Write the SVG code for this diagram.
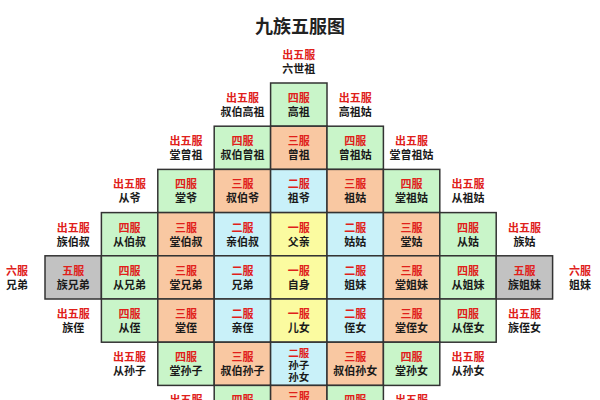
<svg xmlns="http://www.w3.org/2000/svg" width="600" height="400" viewBox="0 0 600 400">
<style>
rect.c{stroke:#333;stroke-width:1.5}
.g{fill:#c9f5c9}.o{fill:#f9c8a2}.b{fill:#c9f1f9}.y{fill:#fbfba0}.k{fill:#c2c2c2}
text{font-family:"Noto Sans CJK SC","Noto Sans",sans-serif;font-weight:bold;font-size:11px;text-anchor:middle}
text.l{fill:#e0201a}
text.n{fill:#1a1a1a}
text.s{font-size:10.5px}
text.t{font-size:18px;fill:#222}
</style>
<rect width="600" height="400" fill="#fff"/>
<text class="t" x="300" y="33">九族五服图</text>

<g id="cells">
<!-- row -1 -->
<g id="n-liushizu"><text class="l" x="298.8" y="58.8">出五服</text><text class="n" x="298.8" y="72.8">六世祖</text></g>
<!-- row 0 -->
<g id="n-shubogaozu"><text class="l" x="242.4" y="102">出五服</text><text class="n" x="242.4" y="116">叔伯高祖</text></g>
<g id="n-gaozu"><rect class="c g" x="270.6" y="83" width="56.4" height="43.2"/><text class="l" x="298.8" y="102">四服</text><text class="n" x="298.8" y="116">高祖</text></g>
<g id="n-gaozugu"><text class="l" x="355.2" y="102">出五服</text><text class="n" x="355.2" y="116">高祖姑</text></g>
<!-- row 1 -->
<g id="n-tangzengzu"><text class="l" x="186" y="145.2">出五服</text><text class="n" x="186" y="159.2">堂曾祖</text></g>
<g id="n-shubozengzu"><rect class="c g" x="214.2" y="126.2" width="56.4" height="43.2"/><text class="l" x="242.4" y="145.2">四服</text><text class="n" x="242.4" y="159.2">叔伯曾祖</text></g>
<g id="n-zengzu"><rect class="c o" x="270.6" y="126.2" width="56.4" height="43.2"/><text class="l" x="298.8" y="145.2">三服</text><text class="n" x="298.8" y="159.2">曾祖</text></g>
<g id="n-zengzugu"><rect class="c g" x="327" y="126.2" width="56.4" height="43.2"/><text class="l" x="355.2" y="145.2">四服</text><text class="n" x="355.2" y="159.2">曾祖姑</text></g>
<g id="n-tangzengzugu"><text class="l" x="411.6" y="145.2">出五服</text><text class="n" x="411.6" y="159.2">堂曾祖姑</text></g>
<!-- row 2 -->
<g id="n-congye"><text class="l" x="129.6" y="188.4">出五服</text><text class="n" x="129.6" y="202.4">从爷</text></g>
<g id="n-tangye"><rect class="c g" x="157.8" y="169.4" width="56.4" height="43.2"/><text class="l" x="186" y="188.4">四服</text><text class="n" x="186" y="202.4">堂爷</text></g>
<g id="n-shuboye"><rect class="c o" x="214.2" y="169.4" width="56.4" height="43.2"/><text class="l" x="242.4" y="188.4">三服</text><text class="n" x="242.4" y="202.4">叔伯爷</text></g>
<g id="n-zuye"><rect class="c b" x="270.6" y="169.4" width="56.4" height="43.2"/><text class="l" x="298.8" y="188.4">二服</text><text class="n" x="298.8" y="202.4">祖爷</text></g>
<g id="n-zugu"><rect class="c o" x="327" y="169.4" width="56.4" height="43.2"/><text class="l" x="355.2" y="188.4">三服</text><text class="n" x="355.2" y="202.4">祖姑</text></g>
<g id="n-tangzugu"><rect class="c g" x="383.4" y="169.4" width="56.4" height="43.2"/><text class="l" x="411.6" y="188.4">四服</text><text class="n" x="411.6" y="202.4">堂祖姑</text></g>
<g id="n-congzugu"><text class="l" x="468" y="188.4">出五服</text><text class="n" x="468" y="202.4">从祖姑</text></g>
<!-- row 3 -->
<g id="n-zubeishu"><text class="l" x="73.2" y="231.6">出五服</text><text class="n" x="73.2" y="245.6">族伯叔</text></g>
<g id="n-congboshu"><rect class="c g" x="101.4" y="212.6" width="56.4" height="43.2"/><text class="l" x="129.6" y="231.6">四服</text><text class="n" x="129.6" y="245.6">从伯叔</text></g>
<g id="n-tangboshu"><rect class="c o" x="157.8" y="212.6" width="56.4" height="43.2"/><text class="l" x="186" y="231.6">三服</text><text class="n" x="186" y="245.6">堂伯叔</text></g>
<g id="n-qinboshu"><rect class="c b" x="214.2" y="212.6" width="56.4" height="43.2"/><text class="l" x="242.4" y="231.6">二服</text><text class="n" x="242.4" y="245.6">亲伯叔</text></g>
<g id="n-fuqin"><rect class="c y" x="270.6" y="212.6" width="56.4" height="43.2"/><text class="l" x="298.8" y="231.6">一服</text><text class="n" x="298.8" y="245.6">父亲</text></g>
<g id="n-gugu"><rect class="c b" x="327" y="212.6" width="56.4" height="43.2"/><text class="l" x="355.2" y="231.6">二服</text><text class="n" x="355.2" y="245.6">姑姑</text></g>
<g id="n-tanggu"><rect class="c o" x="383.4" y="212.6" width="56.4" height="43.2"/><text class="l" x="411.6" y="231.6">三服</text><text class="n" x="411.6" y="245.6">堂姑</text></g>
<g id="n-conggu"><rect class="c g" x="439.8" y="212.6" width="56.4" height="43.2"/><text class="l" x="468" y="231.6">四服</text><text class="n" x="468" y="245.6">从姑</text></g>
<g id="n-zugu2"><text class="l" x="524.4" y="231.6">出五服</text><text class="n" x="524.4" y="245.6">族姑</text></g>
<!-- row 4 -->
<g id="n-xiongdi6"><text class="l" x="17" y="274.8">六服</text><text class="n" x="17" y="288.8">兄弟</text></g>
<g id="n-zuxiongdi"><rect class="c k" x="45" y="255.8" width="56.4" height="43.2"/><text class="l" x="73.2" y="274.8">五服</text><text class="n" x="73.2" y="288.8">族兄弟</text></g>
<g id="n-congxiongdi"><rect class="c g" x="101.4" y="255.8" width="56.4" height="43.2"/><text class="l" x="129.6" y="274.8">四服</text><text class="n" x="129.6" y="288.8">从兄弟</text></g>
<g id="n-tangxiongdi"><rect class="c o" x="157.8" y="255.8" width="56.4" height="43.2"/><text class="l" x="186" y="274.8">三服</text><text class="n" x="186" y="288.8">堂兄弟</text></g>
<g id="n-xiongdi"><rect class="c b" x="214.2" y="255.8" width="56.4" height="43.2"/><text class="l" x="242.4" y="274.8">二服</text><text class="n" x="242.4" y="288.8">兄弟</text></g>
<g id="n-zishen"><rect class="c y" x="270.6" y="255.8" width="56.4" height="43.2"/><text class="l" x="298.8" y="274.8">一服</text><text class="n" x="298.8" y="288.8">自身</text></g>
<g id="n-jiemei"><rect class="c b" x="327" y="255.8" width="56.4" height="43.2"/><text class="l" x="355.2" y="274.8">二服</text><text class="n" x="355.2" y="288.8">姐妹</text></g>
<g id="n-tangjiemei"><rect class="c o" x="383.4" y="255.8" width="56.4" height="43.2"/><text class="l" x="411.6" y="274.8">三服</text><text class="n" x="411.6" y="288.8">堂姐妹</text></g>
<g id="n-congjiemei"><rect class="c g" x="439.8" y="255.8" width="56.4" height="43.2"/><text class="l" x="468" y="274.8">四服</text><text class="n" x="468" y="288.8">从姐妹</text></g>
<g id="n-zujiemei"><rect class="c k" x="496.2" y="255.8" width="56.4" height="43.2"/><text class="l" x="524.4" y="274.8">五服</text><text class="n" x="524.4" y="288.8">族姐妹</text></g>
<g id="n-jiemei6"><text class="l" x="580" y="274.8">六服</text><text class="n" x="580" y="288.8">姐妹</text></g>
<!-- row 5 -->
<g id="n-zuzhi"><text class="l" x="73.2" y="318">出五服</text><text class="n" x="73.2" y="332">族侄</text></g>
<g id="n-congzhi"><rect class="c g" x="101.4" y="299" width="56.4" height="43.2"/><text class="l" x="129.6" y="318">四服</text><text class="n" x="129.6" y="332">从侄</text></g>
<g id="n-tangzhi"><rect class="c o" x="157.8" y="299" width="56.4" height="43.2"/><text class="l" x="186" y="318">三服</text><text class="n" x="186" y="332">堂侄</text></g>
<g id="n-qinzhi"><rect class="c b" x="214.2" y="299" width="56.4" height="43.2"/><text class="l" x="242.4" y="318">二服</text><text class="n" x="242.4" y="332">亲侄</text></g>
<g id="n-ernv"><rect class="c y" x="270.6" y="299" width="56.4" height="43.2"/><text class="l" x="298.8" y="318">一服</text><text class="n" x="298.8" y="332">儿女</text></g>
<g id="n-zhinv"><rect class="c b" x="327" y="299" width="56.4" height="43.2"/><text class="l" x="355.2" y="318">二服</text><text class="n" x="355.2" y="332">侄女</text></g>
<g id="n-tangzhinv"><rect class="c o" x="383.4" y="299" width="56.4" height="43.2"/><text class="l" x="411.6" y="318">三服</text><text class="n" x="411.6" y="332">堂侄女</text></g>
<g id="n-congzhinv"><rect class="c g" x="439.8" y="299" width="56.4" height="43.2"/><text class="l" x="468" y="318">四服</text><text class="n" x="468" y="332">从侄女</text></g>
<g id="n-zuzhinv"><text class="l" x="524.4" y="318">出五服</text><text class="n" x="524.4" y="332">族侄女</text></g>
<!-- row 6 -->
<g id="n-congsunzi"><text class="l" x="129.6" y="361.2">出五服</text><text class="n" x="129.6" y="375.2">从孙子</text></g>
<g id="n-tangsunzi"><rect class="c g" x="157.8" y="342.2" width="56.4" height="43.2"/><text class="l" x="186" y="361.2">四服</text><text class="n" x="186" y="375.2">堂孙子</text></g>
<g id="n-shubosunzi"><rect class="c o" x="214.2" y="342.2" width="56.4" height="43.2"/><text class="l" x="242.4" y="361.2">三服</text><text class="n" x="242.4" y="375.2">叔伯孙子</text></g>
<g id="n-sunzisunnv"><rect class="c b" x="270.6" y="342.2" width="56.4" height="43.2"/><text class="l s" x="298.8" y="357.4">二服</text><text class="n s" x="298.8" y="369.2">孙子</text><text class="n s" x="298.8" y="380.8">孙女</text></g>
<g id="n-shubosunnv"><rect class="c o" x="327" y="342.2" width="56.4" height="43.2"/><text class="l" x="355.2" y="361.2">三服</text><text class="n" x="355.2" y="375.2">叔伯孙女</text></g>
<g id="n-tangsunnv"><rect class="c g" x="383.4" y="342.2" width="56.4" height="43.2"/><text class="l" x="411.6" y="361.2">四服</text><text class="n" x="411.6" y="375.2">堂孙女</text></g>
<g id="n-congsunnv"><text class="l" x="468" y="361.2">出五服</text><text class="n" x="468" y="375.2">从孙女</text></g>
<!-- row 7 -->
<g id="n-r7-left"><text class="l" x="186" y="404.4">出五服</text></g>
<g id="n-r7-c3"><rect class="c g" x="214.2" y="385.4" width="56.4" height="43.2"/><text class="l" x="242.4" y="404.4">四服</text></g>
<g id="n-r7-c4"><rect class="c o" x="270.6" y="385.4" width="56.4" height="43.2"/><text class="l" x="298.8" y="400.9">三服</text></g>
<g id="n-r7-c5"><rect class="c g" x="327" y="385.4" width="56.4" height="43.2"/><text class="l" x="355.2" y="404.4">四服</text></g>
<g id="n-r7-right"><text class="l" x="411.6" y="404.4">出五服</text></g>
</g>
<g id="connectors"/>
</svg>
